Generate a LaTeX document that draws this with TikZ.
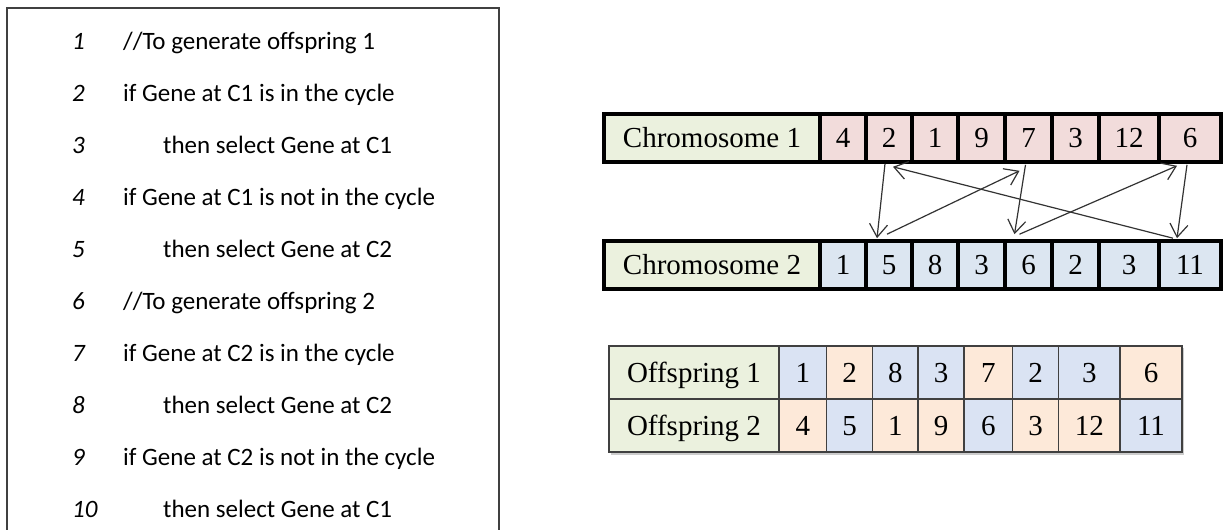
\documentclass[tikz,border=0pt]{standalone}
\usepackage{fontspec}
\setmainfont{Liberation Serif}
\newfontfamily\codefont{Carlito}
\usetikzlibrary{arrows.meta,calc}
\definecolor{labelgreen}{HTML}{EBF1DE}
\definecolor{genepink}{HTML}{F2DCDB}
\definecolor{geneblue}{HTML}{DCE6F1}
\definecolor{offpeach}{HTML}{FDE9D9}
\definecolor{offblue}{HTML}{DAE3F3}
\definecolor{framegray}{HTML}{404040}
\definecolor{arrowgray}{HTML}{333333}
\tikzset{
  chromcell/.style={draw=black, line width=3.6pt, inner sep=0pt, minimum height=48pt,
    text height=19pt, text depth=0pt, font=\fontsize{29}{32}\selectfont},
  offcell/.style={draw=framegray, line width=1.1pt, inner sep=0pt, minimum height=53pt,
    text height=19pt, text depth=0pt, font=\fontsize{29}{32}\selectfont},
  cyclearrow/.style={draw=arrowgray, line width=1.2pt,
    -{Straight Barb[length=13pt,width=18pt,line width=1.2pt]}},
  codenum/.style={anchor=base west, inner sep=0pt, font=\codefont\fontsize{25}{28}\selectfont\itshape},
  codeline/.style={anchor=base west, inner sep=0pt, font=\codefont\fontsize{25}{28}\selectfont},
}
\begin{document}
\begin{tikzpicture}[x=1pt,y=-1pt]
\useasboundingbox (0,0) rectangle (1227,530);
\fill[white] (0,0) rectangle (1227,530);

% pseudo-code panel
\draw[framegray, line width=1.4pt] (7,531) -- (7,8) -- (499,8) -- (499,531);
\foreach \i/\ind/\txt in {
  1/123/{//To generate offspring 1},
  2/123/{if Gene at C1 is in the cycle},
  3/163/{then select Gene at C1},
  4/123/{if Gene at C1 is not in the cycle},
  5/163/{then select Gene at C2},
  6/123/{//To generate offspring 2},
  7/123/{if Gene at C2 is in the cycle},
  8/163/{then select Gene at C2},
  9/123/{if Gene at C2 is not in the cycle},
  10/163/{then select Gene at C1}} {
  \node[codenum] (n\i) at (72,{41+52*(\i-1)+8}) {\i};
  \node[codeline] (t\i) at (\ind,{41+52*(\i-1)+8}) {\txt};
}

% parent chromosomes
\node[chromcell, fill=labelgreen, minimum width=216pt] (c1-0) at (712,138) {Chromosome 1};
\node[chromcell, fill=labelgreen, minimum width=216pt] (c2-0) at (712,265) {Chromosome 2};
\foreach \i/\l/\r/\a/\b in {1/820/866/4/1, 2/866/912/2/5, 3/912/958/1/8, 4/958/1005/9/3,
    5/1005/1052/7/6, 6/1052/1099/3/2, 7/1099/1159/12/3, 8/1159/1221/6/11} {
  \node[chromcell, fill=genepink, minimum width={\r-\l}] (c1-\i) at ({(\l+\r)/2},138) {\a};
  \node[chromcell, fill=geneblue, minimum width={\r-\l}] (c2-\i) at ({(\l+\r)/2},265) {\b};
}

% cycle between the two parents
\draw[cyclearrow] ($(c1-2.south)+(-4,0)$) -- ($(c2-2.north)+(-12,-1)$);
\draw[cyclearrow] ($(c2-2.north)+(-2,-5)$) -- ($(c1-5.south)+(-9,7)$);
\draw[cyclearrow] ($(c1-5.south)+(-3,1)$) -- ($(c2-5.north)+(-14,-5)$);
\draw[cyclearrow] ($(c2-5.north)+(-9,-5)$) -- ($(c1-8.south)+(-13,2)$);
\draw[cyclearrow] ($(c1-8.south)+(-3,1)$) -- ($(c2-8.north)+(-13,-1)$);
\draw[cyclearrow] ($(c2-8.north)+(-17,-1)$) -- ($(c1-2.south)+(4,3)$);

% offspring table
\fill[black!20] (611,348) rectangle (1184,454.5);
\node[offcell, fill=labelgreen, minimum width=170pt] (o1-0) at (694,372.5) {Offspring 1};
\node[offcell, fill=labelgreen, minimum width=170pt] (o2-0) at (694,425.5) {Offspring 2};
\foreach \i/\l/\r/\a/\ca/\b/\cb in {
    1/779/826.5/1/offblue/4/offpeach, 2/826.5/872.5/2/offpeach/5/offblue,
    3/872.5/918/8/offblue/1/offpeach, 4/918/964/3/offblue/9/offpeach,
    5/964/1012.5/7/offpeach/6/offblue, 6/1012.5/1058.5/2/offblue/3/offpeach,
    7/1058.5/1120/3/offblue/12/offpeach, 8/1120/1182/6/offpeach/11/offblue} {
  \node[offcell, fill=\ca, minimum width={\r-\l}] (o1-\i) at ({(\l+\r)/2},372.5) {\a};
  \node[offcell, fill=\cb, minimum width={\r-\l}] (o2-\i) at ({(\l+\r)/2},425.5) {\b};
}
\end{tikzpicture}
\end{document}
